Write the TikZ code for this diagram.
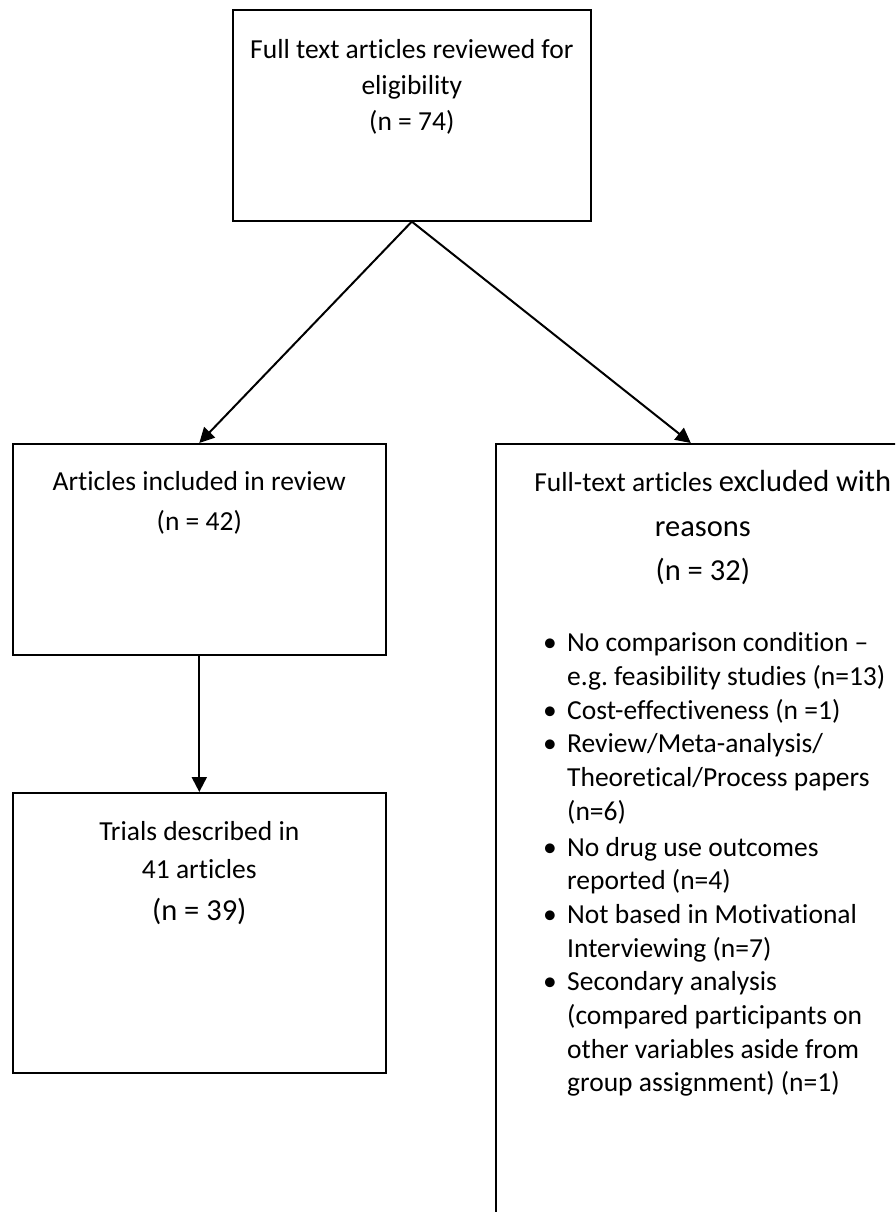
\documentclass[tikz,border=0pt]{standalone}
\usepackage{fontspec}
\setmainfont{Carlito}[Ligatures=NoCommon]
\usetikzlibrary{arrows.meta}

\newcommand{\bigtxt}{\fontsize{30.5}{42}\selectfont}
\newcommand{\pbul}{\makebox[24pt][l]{\textbullet}}
\newcommand{\pind}{\hspace*{24pt}}

\begin{document}
\frenchspacing
\begin{tikzpicture}[
        x=1pt, y=-1pt,
        font=\fontsize{27.5}{36}\selectfont,
        box/.style={draw, line width=1.6pt, inner sep=0pt, anchor=north west},
        flow/.style={-{Triangle[length=15pt, width=15pt]}, line width=2pt},
        boxtext/.style={anchor=north, align=center, inner sep=0pt}
    ]
    \useasboundingbox (0,0) rectangle (895,1212);
    \clip (0,0) rectangle (895,1212);

    % --- Cajas ---
    \node[box, minimum width=358pt, minimum height=211pt,
          label={[boxtext, yshift=-30.5pt]north:{Full text articles reviewed for\\eligibility\\(n = 74)}}]
          (review) at (232,9) {};

    \node[box, minimum width=373pt, minimum height=211pt,
          label={[boxtext, yshift=-28.5pt]north:{Articles included in review\\[4pt](n = 42)}}]
          (incl) at (12,443) {};

    \node[box, minimum width=373pt, minimum height=280pt,
          label={[boxtext, yshift=-29.5pt]north:{Trials described in\\[2pt]41 articles\\[6pt]{\bigtxt (n = 39)}}}]
          (trials) at (12,792) {};

    % caja de exclusiones (cortada por el borde)
    \node[box, minimum width=414pt, minimum height=800pt,
          label={[boxtext, yshift=-27.6pt]north:{\hspace*{20pt}Full-text articles {\bigtxt excluded with}\\[9pt]{\bigtxt reasons}\\[8pt]{\bigtxt (n = 32)}}},
          label={[anchor=north west, align=left, inner sep=0pt, xshift=48pt, yshift=-189.5pt,
                  font=\fontsize{27.5}{33.7}\selectfont]north west:{%
            \pbul No comparison condition --\\
            \pind e.g. feasibility studies (n=13)\\
            \pbul Cost-effectiveness (n =1)\\
            \pbul Review/Meta-analysis/\\
            \pind Theoretical/Process papers\\
            \pind (n=6)\\[2pt]
            \pbul No drug use outcomes\\
            \pind reported (n=4)\\
            \pbul Not based in Motivational\\
            \pind Interviewing (n=7)\\
            \pbul Secondary analysis\\
            \pind (compared participants on\\
            \pind other variables aside from\\
            \pind group assignment) (n=1)}}]
          (exclu) at (495,443) {};

    % --- Flechas ---
    \draw[flow] (review.south) -- (incl.north);
    \draw[flow] (review.south) -- ([xshift=-12pt]exclu.north);
    \draw[flow] (incl.south) -- (trials.north);

\end{tikzpicture}
\end{document}
